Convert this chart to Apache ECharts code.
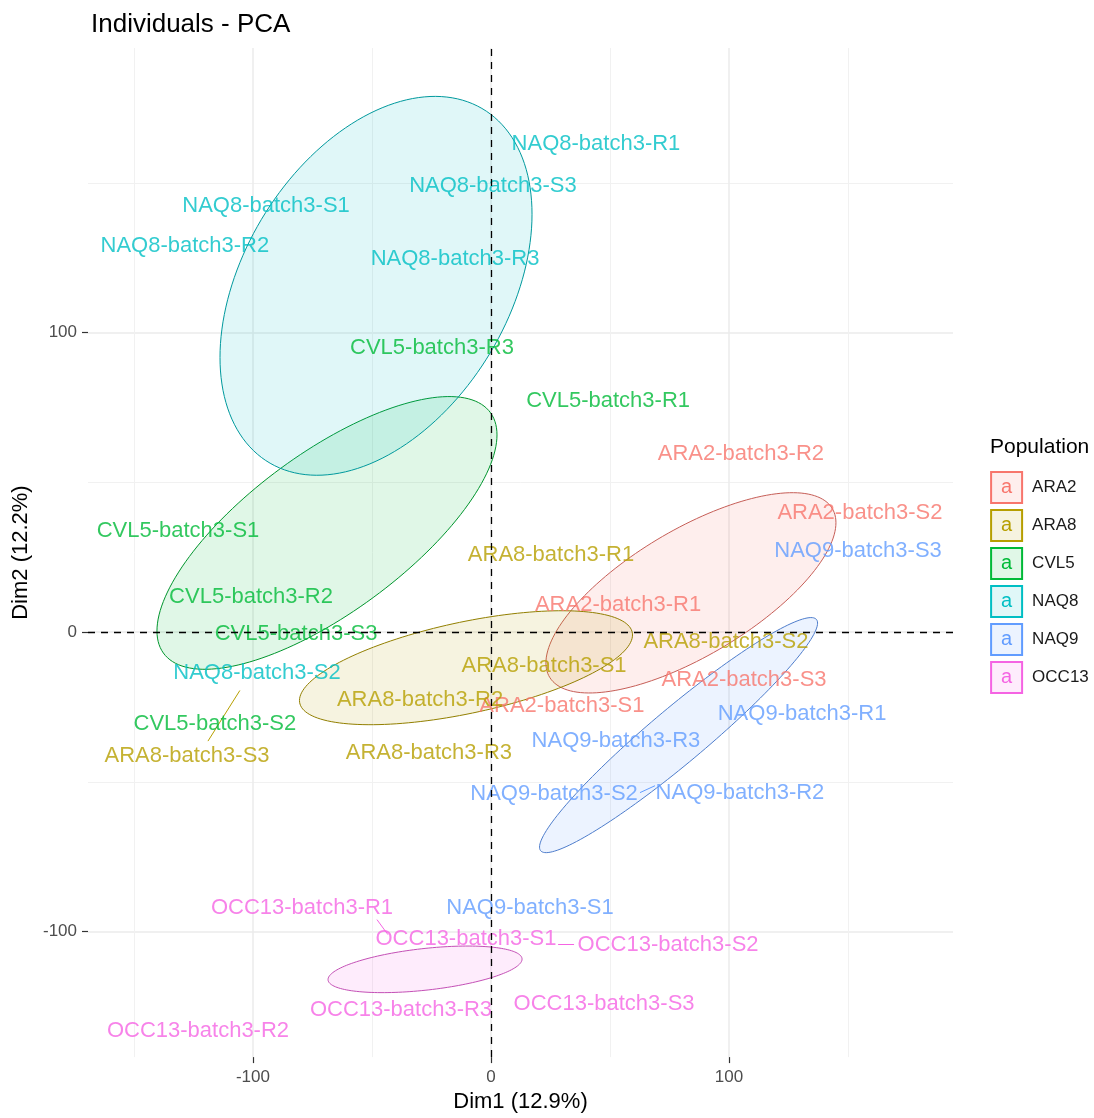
<!DOCTYPE html>
<html>
<head>
<meta charset="utf-8">
<script src="https://cdn.jsdelivr.net/npm/echarts@6/dist/echarts.min.js"></script>
<style>
html,body{margin:0;padding:0;background:#fff;}
#chart{width:1094px;height:1118px;}
</style>
</head>
<body>
<div id="chart"></div>
<script>
// ---------------- data ----------------
const groups = ['ARA2', 'ARA8', 'CVL5', 'NAQ8', 'NAQ9', 'OCC13'];
const groupColors = ['#F8766D', '#B79F00', '#00BA38', '#00BFC4', '#619CFF', '#F564E3'];

const ara2Labels = ['ARA2-batch3-R2', 'ARA2-batch3-S2', 'ARA2-batch3-R1', 'ARA2-batch3-S3', 'ARA2-batch3-S1'];
const ara2Dim1 = [105.0, 155.0, 53.4, 106.3, 29.8];
const ara2Dim2 = [59.6, 39.7, 8.9, -15.9, -24.8];

const ara8Labels = ['ARA8-batch3-R1', 'ARA8-batch3-S1', 'ARA8-batch3-S2', 'ARA8-batch3-R2', 'ARA8-batch3-R3', 'ARA8-batch3-S3'];
const ara8Dim1 = [25.2, 22.3, 98.7, -29.8, -26.1, -127.7];
const ara8Dim2 = [25.8, -11.3, -3.3, -22.8, -40.4, -41.4];

const cvl5Labels = ['CVL5-batch3-R3', 'CVL5-batch3-R1', 'CVL5-batch3-S1', 'CVL5-batch3-R2', 'CVL5-batch3-S3', 'CVL5-batch3-S2'];
const cvl5Dim1 = [-24.8, 49.2, -131.5, -100.8, -81.9, -116.0];
const cvl5Dim2 = [95.0, 77.2, 33.8, 11.6, -0.7, -30.8];

const naq8Labels = ['NAQ8-batch3-R1', 'NAQ8-batch3-S3', 'NAQ8-batch3-S1', 'NAQ8-batch3-R2', 'NAQ8-batch3-R3', 'NAQ8-batch3-S2'];
const naq8Dim1 = [44.1, 0.8, -94.5, -128.6, -15.1, -98.3];
const naq8Dim2 = [162.9, 149.0, 142.4, 128.8, 124.5, -13.6];

const naq9Labels = ['NAQ9-batch3-S3', 'NAQ9-batch3-R1', 'NAQ9-batch3-R3', 'NAQ9-batch3-S2', 'NAQ9-batch3-R2', 'NAQ9-batch3-S1'];
const naq9Dim1 = [154.2, 130.7, 52.5, 26.5, 104.6, 16.4];
const naq9Dim2 = [27.2, -27.2, -36.4, -54.0, -53.6, -92.1];

const occ13Labels = ['OCC13-batch3-R1', 'OCC13-batch3-S1', 'OCC13-batch3-S2', 'OCC13-batch3-R3', 'OCC13-batch3-S3', 'OCC13-batch3-R2'];
const occ13Dim1 = [-79.4, -10.5, 74.4, -37.8, 47.5, -123.1];
const occ13Dim2 = [-92.1, -102.6, -104.6, -126.2, -124.2, -133.1];

// concentration ellipses (centre + covariance-like matrix), one per group, in group order
const ellipseCenterX = [84.0, -10.5, -68.9, -48.3, 78.8, -27.7];
const ellipseCenterY = [13.1, -11.9, 33.1, 115.6, -34.4, -112.6];
const ellipseSxx = [3712, 4894, 5102, 4296, 3411, 1661];
const ellipseSxy = [1426, 765, 2337, 1567, 2184, 139];
const ellipseSyy = [1118, 362, 2073, 4000, 1540, 60.5];

// label repel segments
const segGroup = [1, 5, 5, 4];
const segFromX = [-105.5, -47.9, 28.2, 62.6];
const segFromY = [-19.5, -96.0, -104.3, -53.6];
const segToX = [-118.9, -43.3, 34.9, 68.9];
const segToY = [-36.4, -101.0, -104.3, -51.3];

const majorTicks = [-100, 0, 100];
const minorTicks = [-150, -50, 50, 150];
const xRange = [-169.3, 194.1];
const yRange = [-141.9, 195.0];

// ---------------- build ----------------
const labelSets = [
  [ara2Labels, ara2Dim1, ara2Dim2],
  [ara8Labels, ara8Dim1, ara8Dim2],
  [cvl5Labels, cvl5Dim1, cvl5Dim2],
  [naq8Labels, naq8Dim1, naq8Dim2],
  [naq9Labels, naq9Dim1, naq9Dim2],
  [occ13Labels, occ13Dim1, occ13Dim2]
];

function hexToRgba(hex, a) {
  const r = parseInt(hex.slice(1, 3), 16), g = parseInt(hex.slice(3, 5), 16), b = parseInt(hex.slice(5, 7), 16);
  return 'rgba(' + r + ',' + g + ',' + b + ',' + a + ')';
}
function darken(hex, f) {
  const r = Math.round(parseInt(hex.slice(1, 3), 16) * f), g = Math.round(parseInt(hex.slice(3, 5), 16) * f), b = Math.round(parseInt(hex.slice(5, 7), 16) * f);
  return 'rgb(' + r + ',' + g + ',' + b + ')';
}

const FONT = '"Liberation Sans", Arial, Helvetica, sans-serif';

const series = [];

// ellipses
series.push({
  type: 'custom',
  name: 'ellipses',
  xAxisIndex: 0, yAxisIndex: 0,
  silent: true,
  z: 1,
  data: groups.map((g, i) => [ellipseCenterX[i], ellipseCenterY[i]]),
  renderItem: function (params, api) {
    const i = params.dataIndex;
    const l11 = Math.sqrt(ellipseSxx[i]);
    const l21 = ellipseSxy[i] / l11;
    const l22 = Math.sqrt(Math.max(ellipseSyy[i] - l21 * l21, 0));
    const pts = [];
    const n = 160;
    for (let k = 0; k <= n; k++) {
      const t = 2 * Math.PI * k / n;
      const c = Math.cos(t), s = Math.sin(t);
      pts.push(api.coord([ellipseCenterX[i] + l11 * c, ellipseCenterY[i] + l21 * c + l22 * s]));
    }
    return {
      type: 'polygon',
      shape: { points: pts },
      style: { fill: hexToRgba(groupColors[i], 0.12), stroke: darken(groupColors[i], 0.8), lineWidth: 1 }
    };
  }
});

// segments
series.push({
  type: 'lines',
  coordinateSystem: 'cartesian2d',
  silent: true,
  z: 2,
  symbol: 'none',
  data: segFromX.map((v, i) => ({
    coords: [[segFromX[i], segFromY[i]], [segToX[i], segToY[i]]],
    lineStyle: { color: groupColors[segGroup[i]], width: 1, opacity: 1 }
  }))
});

// zero lines
series.push({
  type: 'scatter',
  name: 'zero',
  data: [],
  silent: true,
  markLine: {
    silent: true,
    symbol: 'none',
    label: { show: false },
    lineStyle: { color: '#000', type: [7, 6], width: 1.3 },
    z: 5,
    data: [{ xAxis: 0 }, { yAxis: 0 }]
  }
});

// text labels per group
groups.forEach((g, i) => {
  const [names, xs, ys] = labelSets[i];
  series.push({
    type: 'scatter',
    name: g,
    symbolSize: 0,
    z: 4,
    itemStyle: { color: groupColors[i] },
    label: {
      show: true,
      position: 'inside',
      formatter: '{b}',
      fontFamily: FONT,
      fontSize: 22,
      color: groupColors[i]
    },
    labelLayout: { hideOverlap: false },
    data: names.map((n, k) => ({ name: n, value: [xs[k], ys[k]] }))
  });
});

const legendRich = { t: { fontFamily: FONT, fontSize: 17, color: '#1A1A1A', padding: [0, 0, 0, 10] } };
groups.forEach((g, i) => {
  legendRich['k' + i] = {
    width: 31, height: 31, lineHeight: 31, align: 'center', verticalAlign: 'middle',
    backgroundColor: hexToRgba(groupColors[i], 0.12),
    borderColor: groupColors[i], borderWidth: 1,
    color: groupColors[i], fontFamily: FONT, fontSize: 20
  };
});

const axisCommonX = {
  type: 'value', min: xRange[0], max: xRange[1], gridIndex: 0
};
const axisCommonY = {
  type: 'value', min: yRange[0], max: yRange[1], gridIndex: 0
};

const option = {
  backgroundColor: '#ffffff',
  animation: false,
  title: [
    { text: 'Individuals - PCA', left: 86, top: 7, textStyle: { fontFamily: FONT, fontSize: 26, fontWeight: 'normal', color: '#000' } },
    { text: 'Population', left: 985, top: 432, textStyle: { fontFamily: FONT, fontSize: 21, fontWeight: 'normal', color: '#000' } }
  ],
  grid: { left: 88, right: 141, top: 48, bottom: 56, containLabel: false },
  legend: {
    orient: 'vertical',
    left: 981, top: 466,
    itemGap: 5,
    icon: 'rect', itemWidth: 0.1, itemHeight: 0.1,
    itemStyle: { opacity: 0 },
    selectedMode: false,
    data: groups,
    formatter: function (name) { return '{k' + groups.indexOf(name) + '|a}{t|' + name + '}'; },
    textStyle: { rich: legendRich }
  },
  xAxis: [
    Object.assign({}, axisCommonX, {
      position: 'bottom',
      name: 'Dim1 (12.9%)', nameLocation: 'middle', nameGap: 31,
      nameTextStyle: { fontFamily: FONT, fontSize: 22, color: '#000' },
      axisLine: { show: false, onZero: false },
      axisTick: { show: true, length: 6, customValues: majorTicks, lineStyle: { color: '#333', width: 1.2 } },
      axisLabel: { show: true, customValues: majorTicks, margin: 12, fontFamily: FONT, fontSize: 17, color: '#4D4D4D' },
      splitLine: { show: true, lineStyle: { color: '#EBEBEB', width: 1.5 } }
    }),
    Object.assign({}, axisCommonX, {
      position: 'top',
      axisLine: { show: false, onZero: false },
      axisTick: { show: false, customValues: minorTicks },
      axisLabel: { show: false },
      splitLine: { show: true, lineStyle: { color: '#F1F1F1', width: 1 } }
    })
  ],
  yAxis: [
    Object.assign({}, axisCommonY, {
      position: 'left',
      name: 'Dim2 (12.2%)', nameLocation: 'middle', nameGap: 52,
      nameTextStyle: { fontFamily: FONT, fontSize: 22, color: '#000' },
      axisLine: { show: false, onZero: false },
      axisTick: { show: true, length: 6, customValues: majorTicks, lineStyle: { color: '#333', width: 1.2 } },
      axisLabel: { show: true, customValues: majorTicks, margin: 11, fontFamily: FONT, fontSize: 17, color: '#4D4D4D' },
      splitLine: { show: true, lineStyle: { color: '#EBEBEB', width: 1.5 } }
    }),
    Object.assign({}, axisCommonY, {
      position: 'right',
      axisLine: { show: false, onZero: false },
      axisTick: { show: false, customValues: minorTicks },
      axisLabel: { show: false },
      splitLine: { show: true, lineStyle: { color: '#F1F1F1', width: 1 } }
    })
  ],
  series: series
};

const chart = echarts.init(document.getElementById('chart'), null, { renderer: 'canvas' });
chart.setOption(option);
</script>
</body>
</html>
